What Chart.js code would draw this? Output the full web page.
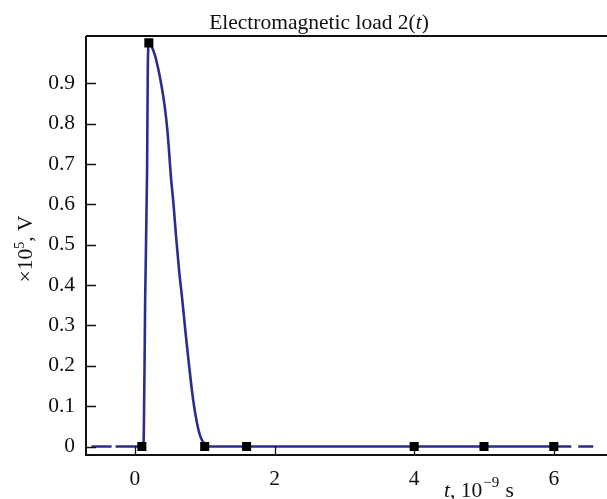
<!DOCTYPE html>
<html>
<head>
<meta charset="utf-8">
<script src="https://cdn.jsdelivr.net/npm/chart.js@4"></script>
<style>
  html, body { margin: 0; padding: 0; background: #fff; }
  #wrap { width: 607px; height: 499px; }
</style>
</head>
<body>
<div id="wrap"><canvas id="myChart" width="607" height="499"></canvas></div>
<script>
// curve (t in 1e-9 s, value in 1e5 V)
const tCurve = [0, 0.1, 0.115, 0.127, 0.147, 0.175, 0.185, 0.2, 0.29, 0.335, 0.382, 0.42, 0.449, 0.473, 0.491, 0.515, 0.552, 0.59, 0.633, 0.679, 0.727, 0.778, 0.835, 0.891, 0.94, 1.0, 1.05, 6.25]
const vCurve = [0, 0, 0.003, 0.02, 0.363, 0.685, 0.935, 1.0, 0.968, 0.935, 0.893, 0.852, 0.811, 0.769, 0.728, 0.67, 0.603, 0.52, 0.437, 0.363, 0.28, 0.198, 0.115, 0.057, 0.024, 0.006, 0, 0]

// square markers
const tMarks = [0.1, 0.2, 1.0, 1.6, 4, 5, 6]
const vMarks = [0, 1.0, 0, 0, 0, 0, 0]

// dashed zero line outside the solid part
const tDashLeft = [-0.62, 0]
const tDashRight = [6.35, 6.67]
const vDash = [0, 0]

const xTicks = [0, 2, 4, 6]
const yTicks = [0, 0.1, 0.2, 0.3, 0.4, 0.5, 0.6, 0.7, 0.8, 0.9]

const lineColor = '#2b2d8e'
const serif = "'Liberation Serif', 'DejaVu Serif', serif"
const fs = 21.5

const pts = (xs, ys) => xs.map((x, i) => ({x: x, y: ys[i]}))

// frame + inward ticks + title + axis titles
const decor = {
    id: 'decor',
    afterDraw(chart) {
        const {ctx, chartArea: a, scales} = chart
        const xs = scales.x, ys = scales.y
        ctx.save()
        ctx.strokeStyle = '#111'
        ctx.lineWidth = 2
        ctx.beginPath()
        ctx.moveTo(a.left, a.top)
        ctx.lineTo(607, a.top)
        ctx.moveTo(a.left, a.top)
        ctx.lineTo(a.left, a.bottom)
        ctx.lineTo(607, a.bottom)
        ctx.stroke()

        ctx.lineWidth = 1.3
        ctx.beginPath()
        xTicks.forEach(v => {
            const px = Math.round(xs.getPixelForValue(v)) + 0.5
            ctx.moveTo(px, a.bottom)
            ctx.lineTo(px, a.bottom - 9)
        })
        yTicks.forEach(v => {
            const py = Math.round(ys.getPixelForValue(v)) + 0.5
            ctx.moveTo(a.left, py)
            ctx.lineTo(a.left + 10, py)
        })
        ctx.stroke()

        ctx.fillStyle = '#111'
        ctx.textBaseline = 'alphabetic'

        // title
        const parts = [['Electromagnetic load 2(', 'normal'], ['t', 'italic'], [')', 'normal']]
        let w = 0
        parts.forEach(p => { ctx.font = p[1] + ' ' + fs + 'px ' + serif; w += ctx.measureText(p[0]).width })
        let x = 319 - w / 2
        parts.forEach(p => {
            ctx.font = p[1] + ' ' + fs + 'px ' + serif
            ctx.fillText(p[0], x, 29)
            x += ctx.measureText(p[0]).width
        })

        // x axis title
        x = 444
        const yb = 497
        ctx.font = 'italic ' + fs + 'px ' + serif
        ctx.fillText('t', x, yb); x += ctx.measureText('t').width
        ctx.font = fs + 'px ' + serif
        ctx.fillText(', 10', x, yb); x += ctx.measureText(', 10').width
        ctx.font = '15px ' + serif
        ctx.fillText('\u22129', x + 1, yb - 10); x += ctx.measureText('\u22129').width + 2
        ctx.font = fs + 'px ' + serif
        ctx.fillText(' s', x, yb)

        // y axis title (rotated)
        ctx.translate(32, 249)
        ctx.rotate(-Math.PI / 2)
        ctx.font = fs + 'px ' + serif
        const a1 = '\u00d710', a2 = '5', a3 = ', V'
        const w1 = ctx.measureText(a1).width, w3 = ctx.measureText(a3).width
        ctx.font = '14px ' + serif
        const w2 = ctx.measureText(a2).width
        x = -(w1 + w2 + w3) / 2
        ctx.font = fs + 'px ' + serif
        ctx.fillText(a1, x, 0); x += w1
        ctx.font = '14px ' + serif
        ctx.fillText(a2, x, -8); x += w2
        ctx.font = fs + 'px ' + serif
        ctx.fillText(a3, x, 0)
        ctx.restore()
    }
}

const ctx = document.getElementById('myChart').getContext('2d')
const chart = new Chart(ctx, {
    type: 'scatter',
    data: {
        datasets: [
            {
                data: pts(tMarks, vMarks),
                pointStyle: 'rect',
                pointRadius: 6.4,
                backgroundColor: '#000',
                borderColor: '#000',
                borderWidth: 0,
                showLine: false,
                order: 0
            },
            {
                data: pts(tCurve, vCurve),
                showLine: true,
                borderColor: lineColor,
                borderWidth: 2.6,
                pointRadius: 0,
                cubicInterpolationMode: 'monotone',
                order: 1
            },
            {
                data: pts(tDashLeft, vDash),
                showLine: true,
                borderColor: lineColor,
                borderWidth: 2.6,
                borderDash: [20, 4],
                pointRadius: 0,
                order: 2
            },
            {
                data: pts(tDashRight, vDash),
                showLine: true,
                borderColor: lineColor,
                borderWidth: 2.6,
                borderDash: [15, 8],
                pointRadius: 0,
                order: 2
            }
        ]
    },
    options: {
        responsive: false,
        animation: false,
        layout: { padding: { top: 36, right: 0, left: 0, bottom: 0 } },
        plugins: {
            legend: { display: false },
            tooltip: { enabled: false },
            title: { display: false }
        },
        scales: {
            x: {
                type: 'linear',
                min: -0.7,
                max: 6.67,
                afterBuildTicks: s => { s.ticks = xTicks.map(v => ({value: v})) },
                afterFit: s => { s.height = 44 },
                grid: { display: false, drawTicks: false },
                border: { display: false },
                ticks: {
                    padding: 11,
                    color: '#111',
                    font: { family: serif, size: fs },
                    callback: v => String(v)
                }
            },
            y: {
                type: 'linear',
                min: -0.021,
                max: 1.017,
                afterBuildTicks: s => { s.ticks = yTicks.map(v => ({value: v})) },
                afterFit: s => { s.width = 86 },
                grid: { display: false, drawTicks: false },
                border: { display: false },
                ticks: {
                    padding: 11,
                    color: '#111',
                    font: { family: serif, size: fs },
                    callback: v => String(Math.round(v * 10) / 10)
                }
            }
        }
    },
    plugins: [decor]
})
</script>
</body>
</html>
